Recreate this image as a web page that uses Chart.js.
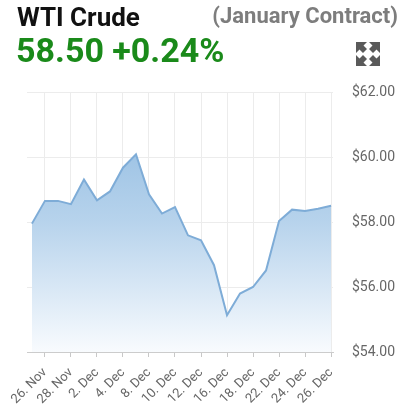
<!DOCTYPE html>
<html>
<head>
<meta charset="utf-8">
<script src="https://cdn.jsdelivr.net/npm/chart.js@4/dist/chart.umd.min.js"></script>
<style>
  html, body { margin:0; padding:0; background:#fff; }
  body { width:418px; height:404px; position:relative; overflow:hidden; font-family: Roboto, "Noto Sans", sans-serif; }
  #wrap { position:absolute; left:0; top:0; width:418px; height:404px; }
  .t { position:absolute; white-space:nowrap; line-height:1; }
  #title { left:17px; top:4px; font-size:26px; font-weight:700; color:#111; }
  #sub { right:20px; top:5px; font-size:22px; font-weight:700; color:#7d7d7d; }
  #price { left:16px; top:33px; font-size:34px; font-weight:700; color:#1a8a1a; }
  #icon { position:absolute; left:356px; top:42px; width:24px; height:24px; }
</style>
</head>
<body>
<div id="wrap"><canvas id="c" width="418" height="404"></canvas></div>
<div class="t" id="title">WTI Crude</div>
<div class="t" id="sub">(January Contract)</div>
<div class="t" id="price">58.50 +0.24%</div>
<svg id="icon" viewBox="0 0 24 24">
  <g fill="#5a5a5a">
    <polygon points="0,0 11,0 7.5,3.5 11,7 7,11 3.5,7.5 0,11"/>
    <polygon points="24,0 13,0 16.5,3.5 13,7 17,11 20.5,7.5 24,11"/>
    <polygon points="0,24 11,24 7.5,20.5 11,17 7,13 3.5,16.5 0,13"/>
    <polygon points="24,24 13,24 16.5,20.5 13,17 17,13 20.5,16.5 24,13"/>
  </g>
</svg>
<script>
const labels = ["25. Nov","26. Nov","27. Nov","28. Nov","1. Dec","2. Dec","3. Dec","4. Dec","5. Dec","8. Dec","9. Dec","10. Dec","11. Dec","12. Dec","15. Dec","16. Dec","17. Dec","18. Dec","19. Dec","22. Dec","23. Dec","24. Dec","25. Dec","26. Dec"];
const prices = [57.95,58.65,58.65,58.55,59.31,58.67,58.94,59.67,60.08,58.85,58.26,58.46,57.59,57.44,56.67,55.13,55.80,56.00,56.51,58.03,58.38,58.34,58.41,58.50];
const yTicks = [54,56,58,60,62];

const ctx = document.getElementById('c').getContext('2d');
new Chart(ctx, {
  type: 'line',
  data: {
    datasets: [{
      data: prices.map((v,i)=>({x:i,y:v})),
      borderColor: '#7eacd7',
      borderWidth: 2,
      pointRadius: 0,
      tension: 0,
      fill: 'start',
      backgroundColor: (c) => {
        const a = c.chart.chartArea;
        if (!a) return 'rgba(140,185,224,0.6)';
        const g = c.chart.ctx.createLinearGradient(0, a.top, 0, a.bottom);
        g.addColorStop(0, '#8ab7df');
        g.addColorStop(0.5, '#b7d3ec');
        g.addColorStop(1, '#f8fbfe');
        return g;
      }
    }]
  },
  options: {
    responsive: false,
    animation: false,
    events: [],
    layout: { padding: { top: 92, left: 27, right: 0, bottom: 0 } },
    plugins: { legend: { display:false }, tooltip: { enabled:false } },
    scales: {
      x: {
        type: 'linear',
        min: -0.38,
        max: 23.15,
        afterBuildTicks: (axis) => {
          axis.ticks = labels.map((l,i)=>({value:i})).filter(t => t.value % 2 === 1);
        },
        afterFit: (s) => { s.height = 52; },
        grid: { color:'#ececec', tickColor:'#c8c8c8', tickLength:5, drawOnChartArea:true },
        border: { color:'#cccccc' },
        ticks: {
          autoSkip:false, maxRotation:45, minRotation:45,
          color:'#666', font:{ family:'Roboto', size:13 }, padding:8,
          callback: (v) => labels[v]
        }
      },
      y: {
        position: 'right',
        min: 54, max: 62,
        afterBuildTicks: (axis) => { axis.ticks = yTicks.map(v=>({value:v})); },
        afterFit: (s) => { s.width = 85; },
        grid: { color:'#ececec', drawTicks:false },
        border: { display:false },
        ticks: {
          color:'#666', font:{ family:'Roboto', size:14 }, padding:19,
          callback: (v) => '$' + v.toFixed(2)
        }
      }
    }
  }
});
</script>
</body>
</html>
